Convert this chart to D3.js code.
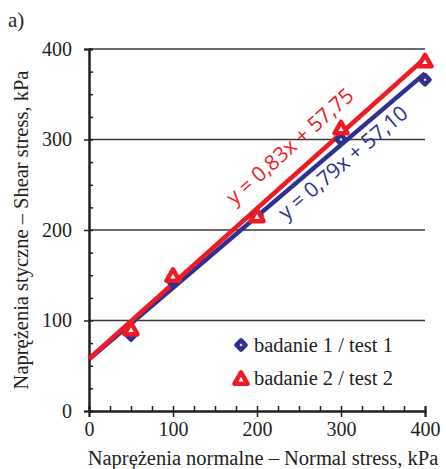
<!DOCTYPE html>
<html>
<head>
<meta charset="utf-8">
<script src="https://cdn.jsdelivr.net/npm/d3@7"></script>
<style>
  body { margin: 0; background: #fff; }
  text { font-family: "Liberation Serif", serif; fill: #231f20; }
  .eq { font-family: "Open Sans", "Liberation Sans", sans-serif; }
</style>
</head>
<body>
<div id="chart"></div>
<script>
var W = 446, H = 469;

// data
var normal1 = [50, 100, 200, 300, 400];
var shear1 = [84, 143, 216, 300, 366];
var normal2 = [50, 100, 200, 300, 400];
var shear2 = [89, 148, 214, 311, 385];
var fit1 = { a: 0.79, b: 57.10, label: "y = 0,79x + 57,10" };
var fit2 = { a: 0.83, b: 57.75, label: "y = 0,83x + 57,75" };
var legendLabels = ["badanie 1 / test 1", "badanie 2 / test 2"];
var majorTicks = [0, 100, 200, 300, 400];
var minorTicks = d3.range(0, 401, 25);

var BLUE = "#2e3192", RED = "#ed1c24";

var svg = d3.select("#chart").append("svg")
  .attr("width", W).attr("height", H);

var x = d3.scaleLinear().domain([0, 400]).range([89, 425]);
var y = d3.scaleLinear().domain([0, 400]).range([411, 49]);

// grid lines
svg.append("g").selectAll("line")
  .data(majorTicks.slice(1))
  .enter().append("line")
  .attr("x1", x(0)).attr("x2", x(400))
  .attr("y1", function(d) { return y(d); })
  .attr("y2", function(d) { return y(d); })
  .attr("stroke", "#3a3a3a").attr("stroke-width", 1.4);

// y axis: major outward, minor inward
var yMajor = svg.append("g").attr("transform", "translate(" + x(0) + ",0)")
  .call(d3.axisLeft(y).tickValues(majorTicks).tickSize(5).tickPadding(12));
var yMinor = svg.append("g").attr("transform", "translate(" + x(0) + ",0)")
  .call(d3.axisRight(y).tickValues(minorTicks).tickSize(4).tickFormat(""));

// x axis: major down, minor up
var xMajor = svg.append("g").attr("transform", "translate(0," + y(0) + ")")
  .call(d3.axisBottom(x).tickValues(majorTicks).tickSize(6).tickPadding(5));
var xMinor = svg.append("g").attr("transform", "translate(0," + y(0) + ")")
  .call(d3.axisTop(x).tickValues(minorTicks).tickSize(5).tickFormat(""));

[yMajor, yMinor, xMajor, xMinor].forEach(function(g) {
  g.selectAll(".domain").attr("stroke", "#231f20").attr("stroke-width", 2);
  g.selectAll(".tick line").attr("stroke", "#231f20").attr("stroke-width", 1.5);
  g.selectAll(".tick text")
    .style("font-family", "Liberation Serif, serif")
    .style("font-size", "20px").attr("fill", "#231f20");
});

// fitted lines
function fitLine(f, color) {
  svg.append("line")
    .attr("x1", x(0)).attr("y1", y(f.b))
    .attr("x2", x(400)).attr("y2", y(f.a * 400 + f.b))
    .attr("stroke", color).attr("stroke-width", 4.5);
}
fitLine(fit1, BLUE);
fitLine(fit2, RED);

// markers
var diamond = d3.symbol().type(d3.symbolSquare).size(42);
var triangle = d3.symbol().type(d3.symbolTriangle).size(75);

function drawDiamonds(g, pts) {
  g.selectAll("path.dia").data(pts).enter().append("path")
    .attr("class", "dia")
    .attr("d", diamond)
    .attr("transform", function(d) { return "translate(" + d[0] + "," + d[1] + ") rotate(45)"; })
    .attr("fill", "#fff").attr("stroke", BLUE).attr("stroke-width", 4.5)
    .attr("stroke-linejoin", "round");
}
function drawTriangles(g, pts) {
  g.selectAll("path.tri").data(pts).enter().append("path")
    .attr("class", "tri")
    .attr("d", triangle)
    .attr("transform", function(d) { return "translate(" + d[0] + "," + d[1] + ")"; })
    .attr("fill", "#fff").attr("stroke", RED).attr("stroke-width", 4.5)
    .attr("stroke-linejoin", "round");
}

drawDiamonds(svg.append("g"), normal1.map(function(d, i) { return [x(d), y(shear1[i])]; }));
drawTriangles(svg.append("g"), normal2.map(function(d, i) { return [x(d), y(shear2[i])]; }));

// equations, rotated along the lines
function eqLabel(f, color, xv, off) {
  var ang = Math.atan2(y(f.a * 400 + f.b) - y(f.b), x(400) - x(0)) * 180 / Math.PI;
  svg.append("text").attr("class", "eq")
    .attr("transform", "translate(" + x(xv) + "," + (y(f.a * xv + f.b) + off) + ") rotate(" + ang + ")")
    .attr("text-anchor", "middle")
    .style("font-size", "21px").style("fill", color)
    .text(f.label);
}
eqLabel(fit2, RED, 245, -23);
eqLabel(fit1, BLUE, 308, 29);

// legend
var lg = svg.append("g");
drawDiamonds(lg, [[241, 345]]);
drawTriangles(lg, [[241, 380]]);
lg.selectAll("text").data(legendLabels).enter().append("text")
  .attr("x", 254).attr("y", function(d, i) { return 352 + i * 33; })
  .style("font-size", "20.5px").text(function(d) { return d; });

// titles
svg.append("text").attr("x", 8).attr("y", 27).style("font-size", "21px").text("a)");
svg.append("text")
  .attr("transform", "translate(28,230) rotate(-90)")
  .attr("text-anchor", "middle").style("font-size", "20.5px")
  .text("Naprężenia styczne – Shear stress, kPa");
svg.append("text")
  .attr("x", 263).attr("y", 465)
  .attr("text-anchor", "middle").style("font-size", "20.5px")
  .text("Naprężenia normalne – Normal stress, kPa");
</script>
</body>
</html>
